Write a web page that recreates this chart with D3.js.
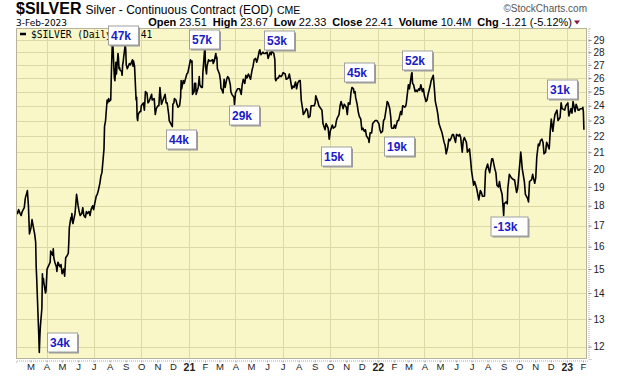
<!DOCTYPE html>
<html>
<head>
<meta charset="utf-8">
<script src="https://cdn.jsdelivr.net/npm/d3@7"></script>
<style>
  html, body { margin: 0; padding: 0; background: #fff; }
  svg { display: block; }
</style>
</head>
<body>
<svg id="chart" width="620" height="376"></svg>
<script>
// Silver daily closes: [month-day, close]
const y2020 = [
  ["02-03",17.7],["02-05",17.6],["02-07",17.8],["02-10",17.6],["02-12",17.5],["02-14",17.7],["02-18",17.9],["02-20",18.4],["02-24",18.8],["02-26",18.0],["02-28",16.6],
  ["03-02",16.9],["03-04",17.3],["03-06",17.0],["03-09",16.6],["03-11",16.2],["03-12",15.1],["03-13",14.6],["03-16",12.9],["03-17",12.4],["03-18",11.8],["03-19",12.3],["03-20",12.7],["03-23",13.4],["03-24",14.8],["03-25",14.4],["03-26",14.6],["03-27",14.4],["03-30",14.0],["03-31",14.1],
  ["04-02",15.0],["04-06",15.2],["04-08",15.3],["04-09",15.8],["04-13",15.6],["04-14",15.9],["04-15",15.5],["04-17",15.3],["04-20",15.1],["04-21",14.9],["04-23",15.3],["04-27",15.1],["04-29",15.2],
  ["05-01",14.8],["05-04",15.0],["05-06",14.7],["05-08",15.5],["05-11",15.6],["05-13",15.7],["05-14",16.2],["05-15",16.9],["05-18",17.4],["05-19",17.3],["05-20",17.6],["05-21",17.2],["05-22",17.1],["05-26",17.6],["05-27",17.9],["05-29",18.6],
  ["06-01",18.0],["06-03",17.7],["06-05",17.5],["06-08",17.6],["06-10",17.9],["06-12",17.5],["06-15",17.4],["06-17",17.7],["06-19",17.6],["06-22",17.7],["06-24",17.5],["06-26",17.8],["06-29",18.0],
  ["07-01",17.8],["07-03",18.1],["07-06",18.5],["07-08",18.6],["07-10",18.8],["07-13",19.2],["07-15",19.6],["07-17",19.8],["07-21",21.2],["07-22",22.6],["07-24",23.0],["07-27",24.4],["07-28",24.2],["07-30",24.5],["07-31",24.3],
  ["08-03",24.4],["08-04",26.0],["08-05",27.4],["08-06",28.6],["08-07",28.8],["08-10",26.0],["08-11",25.8],["08-12",26.3],["08-13",27.2],["08-14",26.3],["08-17",27.9],["08-18",27.5],["08-19",26.7],["08-20",26.8],["08-21",26.6],["08-24",26.5],["08-25",26.2],["08-26",27.0],["08-27",27.2],["08-28",27.6],["08-31",28.6],
  ["09-01",28.2],["09-02",27.0],["09-04",26.7],["09-08",27.1],["09-10",27.0],["09-14",27.4],["09-15",26.9],["09-16",27.3],["09-18",26.9],["09-21",24.4],["09-22",24.6],["09-23",23.2],["09-24",23.0],["09-25",23.4],["09-28",23.6],["09-30",23.6],
  ["10-01",24.0],["10-05",24.2],["10-07",23.7],["10-08",24.3],["10-09",25.0],["10-12",24.9],["10-14",24.2],["10-16",24.3],["10-19",24.6],["10-21",24.8],["10-22",24.4],["10-26",24.5],["10-28",23.4],["10-30",23.8],
  ["11-02",24.0],["11-04",24.0],["11-06",25.3],["11-09",24.1],["11-10",24.2],["11-12",24.4],["11-16",24.8],["11-18",24.2],["11-20",24.2],["11-23",23.4],["11-24",23.0],["11-27",22.8],["11-30",22.6],
  ["12-01",24.1],["12-03",24.2],["12-04",24.5],["12-07",24.4],["12-09",24.1],["12-11",23.9],["12-14",24.0],["12-16",24.6],["12-17",25.8],["12-18",25.2],["12-21",25.8],["12-23",25.6],["12-28",26.3],["12-30",26.4]
];
const y2021 = [
  ["01-04",27.4],["01-06",27.2],["01-07",27.3],["01-08",24.8],["01-11",25.0],["01-12",25.6],["01-14",25.6],["01-15",24.8],["01-19",25.3],["01-21",26.1],["01-22",25.5],["01-25",25.3],["01-27",25.3],["01-28",26.4],["01-29",26.9],
  ["02-01",28.6],["02-02",26.9],["02-03",26.6],["02-04",26.3],["02-05",26.9],["02-08",27.4],["02-10",27.3],["02-12",27.3],["02-16",27.4],["02-17",27.1],["02-19",27.3],["02-22",27.9],["02-23",27.5],["02-24",27.6],["02-25",26.7],["02-26",26.6],
  ["03-01",26.3],["03-03",25.8],["03-04",25.2],["03-05",25.2],["03-08",24.9],["03-10",25.9],["03-12",25.3],["03-15",25.9],["03-17",26.1],["03-19",26.0],["03-22",25.5],["03-23",25.0],["03-25",24.8],["03-29",24.6],["03-30",24.1],["03-31",24.5],
  ["04-01",24.9],["04-05",25.2],["04-07",25.2],["04-09",25.2],["04-12",24.8],["04-14",25.5],["04-16",25.9],["04-19",25.6],["04-21",26.2],["04-23",26.0],["04-26",26.3],["04-28",26.1],["04-30",25.9],
  ["05-03",26.6],["05-05",26.9],["05-07",27.4],["05-10",27.5],["05-12",27.2],["05-14",27.5],["05-17",28.1],["05-18",28.2],["05-20",27.8],["05-24",28.0],["05-26",27.9],["05-28",27.9],
  ["06-01",28.0],["06-03",27.5],["06-07",28.0],["06-09",27.8],["06-10",28.1],["06-14",27.9],["06-16",27.4],["06-17",25.9],["06-18",25.8],["06-21",26.0],["06-23",26.0],["06-25",26.2],["06-28",26.1],["06-30",26.2],
  ["07-02",26.4],["07-06",26.3],["07-08",25.9],["07-12",26.0],["07-14",26.3],["07-16",25.9],["07-19",25.2],["07-21",25.4],["07-23",25.3],["07-26",25.7],["07-28",25.2],["07-30",25.6],
  ["08-02",25.8],["08-04",25.8],["08-06",24.4],["08-09",23.7],["08-10",23.4],["08-12",23.5],["08-16",23.8],["08-18",23.7],["08-20",23.2],["08-23",23.3],["08-25",24.0],["08-27",24.0],["08-31",24.0],
  ["09-02",24.2],["09-03",24.7],["09-07",24.3],["09-09",24.0],["09-13",23.8],["09-15",23.7],["09-17",22.8],["09-21",22.4],["09-23",22.8],["09-27",22.5],["09-29",21.8],["09-30",22.0],
  ["10-01",22.3],["10-05",22.7],["10-07",22.5],["10-11",22.6],["10-13",23.0],["10-15",23.2],["10-18",23.4],["10-20",24.0],["10-22",24.3],["10-26",23.8],["10-28",24.1],
  ["11-01",23.9],["11-03",23.4],["11-05",24.2],["11-08",24.1],["11-10",24.9],["11-12",25.3],["11-15",25.2],["11-16",24.9],["11-18",25.0],["11-19",24.6],["11-22",24.1],["11-24",23.6],["11-26",23.3],["11-29",23.1],
  ["12-01",22.4],["12-03",22.5],["12-06",22.3],["12-08",22.4],["12-10",22.0],["12-14",21.8],["12-15",21.6],["12-17",22.2],["12-20",22.2],["12-22",22.8],["12-27",23.0],["12-30",23.0]
];
const y2022 = [
  ["01-03",22.8],["01-05",22.4],["01-07",22.2],["01-10",22.3],["01-12",23.0],["01-14",23.1],["01-18",24.0],["01-19",24.3],["01-21",24.2],["01-24",23.8],["01-26",23.2],["01-27",22.6],["01-28",22.5],["01-31",22.5],
  ["02-02",22.7],["02-04",22.5],["02-08",23.0],["02-10",23.0],["02-14",23.6],["02-16",23.4],["02-18",24.0],["02-22",23.9],["02-24",24.0],["02-25",24.2],
  ["03-01",25.5],["03-03",25.2],["03-07",26.3],["03-08",26.4],["03-09",25.6],["03-11",25.5],["03-14",25.0],["03-16",25.1],["03-18",25.0],["03-21",25.2],["03-23",25.1],["03-25",25.5],["03-28",25.0],["03-30",25.2],
  ["04-01",24.7],["04-04",24.3],["04-06",24.4],["04-08",24.8],["04-12",25.4],["04-14",25.8],["04-18",26.2],["04-20",25.3],["04-22",24.3],["04-25",23.8],["04-27",23.4],["04-29",22.8],
  ["05-03",22.4],["05-05",22.2],["05-09",21.6],["05-11",21.4],["05-13",20.9],["05-16",21.3],["05-18",21.8],["05-20",21.7],["05-23",21.9],["05-25",22.1],["05-27",22.1],["05-31",21.6],
  ["06-02",22.1],["06-06",22.0],["06-08",22.1],["06-10",21.9],["06-13",21.0],["06-15",21.7],["06-17",21.9],["06-21",21.6],["06-23",21.0],["06-27",21.2],["06-29",20.6],
  ["07-01",19.9],["07-05",19.1],["07-07",19.3],["07-11",18.9],["07-13",18.6],["07-15",18.3],["07-18",18.8],["07-20",18.7],["07-22",18.5],["07-26",18.5],["07-28",19.9],
  ["08-01",20.3],["08-03",20.0],["08-05",19.8],["08-09",20.6],["08-11",20.6],["08-15",20.0],["08-17",19.8],["08-19",19.1],["08-22",19.0],["08-24",19.3],["08-26",18.9],["08-29",18.6],["08-31",17.9],
  ["09-01",17.5],["09-02",18.1],["09-06",18.2],["09-08",18.1],["09-09",18.9],["09-12",19.7],["09-14",19.6],["09-16",19.5],["09-20",19.4],["09-22",19.4],["09-26",18.7],["09-28",18.9],
  ["10-03",20.6],["10-04",21.0],["10-05",20.7],["10-07",20.0],["10-11",19.3],["10-13",18.6],["10-17",18.4],["10-19",18.2],["10-21",19.3],["10-25",19.4],["10-27",19.7],["10-31",19.2],
  ["11-02",19.5],["11-04",20.7],["11-07",21.5],["11-09",21.4],["11-11",21.7],["11-14",21.8],["11-16",21.6],["11-18",20.9],["11-21",21.0],["11-23",21.6],["11-28",21.2],["11-30",22.3],
  ["12-02",23.1],["12-05",22.3],["12-07",22.9],["12-09",23.4],["12-13",23.7],["12-15",23.0],["12-19",23.2],["12-21",24.2],["12-23",23.8],["12-28",23.7],["12-30",24.0]
];
const y2023 = [
  ["01-03",24.2],["01-05",23.3],["01-09",23.8],["01-11",23.5],["01-13",24.3],["01-17",23.6],["01-19",24.1],["01-23",23.7],["01-25",23.7],["01-27",23.8],["01-31",23.8],
  ["02-01",23.9],["02-02",23.6],["02-03",22.4]
];

// Price axis (log scale) and month letters for the time axis
const priceTicks = [12, 13, 14, 15, 16, 17, 18, 19, 20, 21, 22, 23, 24, 25, 26, 27, 28, 29];
const monthLetters = ["J", "F", "M", "A", "M", "J", "J", "A", "S", "O", "N", "D"];

// Callout boxes: label, date and price of the box centre
const noteLabels = ["34k", "47k", "44k", "57k", "29k", "53k", "15k", "45k", "19k", "52k", "-13k", "31k"];
const noteDates = ["2020-04-30", "2020-08-27", "2020-12-17", "2021-01-31", "2021-04-17", "2021-06-24",
                   "2021-10-12", "2021-11-26", "2022-02-10", "2022-03-17", "2022-09-11", "2022-12-22"];
const notePrices = [12.16, 29.45, 21.83, 29.07, 23.39, 29.0, 20.76, 26.47, 21.38, 27.38, 16.99, 25.17];

// Header quote
const quoteNames = ["Open", "High", "Low", "Close", "Volume", "Chg"];
const quoteValues = ["23.51", "23.67", "22.33", "22.41", "10.4M", "-1.21 (-5.12%)"];

(function() {
    const W = 620, H = 376;
    const margin = {top: 28, right: 33, bottom: 17, left: 16};
    const plotW = W - margin.left - margin.right;
    const plotH = H - margin.top - margin.bottom;
    const SANS = "'Liberation Sans', Arial, sans-serif";

    const parse = d3.timeParse("%Y-%m-%d");
    const toRows = (year, rows) => rows.map(r => ({date: parse(year + "-" + r[0]), close: r[1]}));
    const series = [].concat(
        toRows(2020, y2020), toRows(2021, y2021), toRows(2022, y2022), toRows(2023, y2023)
    );

    const svg = d3.select("#chart");

    // Scales
    const x = d3.scaleTime()
        .domain([parse("2020-02-02"), parse("2023-02-09")])
        .range([0, plotW]);
    const y = d3.scaleLog()
        .domain([11.58, 30.02])
        .range([plotH, 0]);

    // Header
    const head = svg.append("text")
        .attr("x", 16).attr("y", 14)
        .attr("font-family", SANS).attr("fill", "#000");
    head.append("tspan").attr("font-size", 16).attr("font-weight", "bold").text("$SILVER");
    head.append("tspan").attr("font-size", 12).attr("dx", 4).text("Silver - Continuous Contract (EOD)");
    head.append("tspan").attr("font-size", 10.5).attr("dx", 4).text("CME");

    svg.append("text")
        .attr("x", 587).attr("y", 12)
        .attr("text-anchor", "end")
        .attr("font-family", SANS).attr("font-size", 10)
        .attr("fill", "#555")
        .text("\u00a9StockCharts.com");

    svg.append("text")
        .attr("x", 16).attr("y", 25.5)
        .attr("font-family", "'DejaVu Sans', Verdana, sans-serif").attr("font-size", 9)
        .text("3-Feb-2023");

    const quote = svg.append("text")
        .attr("x", 572).attr("y", 25.5)
        .attr("text-anchor", "end")
        .attr("font-family", SANS).attr("font-size", 11);
    quoteNames.forEach((name, i) => {
        quote.append("tspan").attr("font-weight", "bold").attr("dx", i ? 6 : 0).text(name);
        quote.append("tspan").attr("dx", 3).text(quoteValues[i]);
    });
    svg.append("path")
        .attr("d", "M574,20.5 L580,20.5 L577,24.5 Z")
        .attr("fill", "#8a1538");

    // Plot area
    const g = svg.append("g")
        .attr("transform", "translate(" + margin.left + "," + margin.top + ")");

    g.append("rect")
        .attr("width", plotW).attr("height", plotH)
        .attr("fill", "#f9f6c7");

    // Grid
    g.append("g").selectAll("line")
        .data(priceTicks)
        .join("line")
        .attr("x1", 0).attr("x2", plotW)
        .attr("y1", d => Math.round(y(d)) + 0.5).attr("y2", d => Math.round(y(d)) + 0.5)
        .attr("stroke", "#dcd9a6");

    const quarters = d3.timeMonth.every(3).range(x.domain()[0], x.domain()[1]);
    g.append("g").selectAll("line")
        .data(quarters)
        .join("line")
        .attr("x1", d => Math.round(x(d)) + 0.5).attr("x2", d => Math.round(x(d)) + 0.5)
        .attr("y1", 0).attr("y2", plotH)
        .attr("stroke", "#dcd9a6");

    // Price line
    g.append("path")
        .datum(series)
        .attr("fill", "none")
        .attr("stroke", "#000")
        .attr("stroke-width", 1.6)
        .attr("stroke-linejoin", "round")
        .attr("d", d3.line()
            .x(d => x(d.date))
            .y(d => y(d.close)));

    // Frame
    g.append("rect")
        .attr("x", 0.5).attr("y", 0.5)
        .attr("width", plotW - 1).attr("height", plotH - 1)
        .attr("fill", "none").attr("stroke", "#b5b39a");

    // Right price axis
    const yAxis = g.append("g")
        .attr("transform", "translate(" + (plotW + 1.5) + ",0)")
        .call(d3.axisRight(y).tickValues(priceTicks).tickFormat(d3.format("d")).tickSize(3).tickPadding(2));
    yAxis.select(".domain").attr("stroke", "#aaa").attr("stroke-dasharray", "1,1");
    yAxis.selectAll(".tick line").attr("stroke", "#888");
    yAxis.selectAll("text").attr("font-family", SANS).attr("font-size", 10).attr("fill", "#222");

    // Bottom time axis
    const months = d3.timeMonth.range(d3.timeMonth.ceil(x.domain()[0]), x.domain()[1]);
    const xAxis = g.append("g")
        .attr("transform", "translate(0," + (plotH + 1.5) + ")")
        .call(d3.axisBottom(x).tickValues(months)
            .tickFormat(d => d.getMonth() === 0 ? d3.timeFormat("%y")(d) : monthLetters[d.getMonth()])
            .tickSize(2).tickPadding(1));
    xAxis.select(".domain").attr("stroke", "#aaa").attr("stroke-dasharray", "1,1");
    xAxis.selectAll(".tick line").attr("stroke", "#aaa");
    xAxis.selectAll("text")
        .attr("font-family", SANS).attr("fill", "#222")
        .attr("font-weight", d => d.getMonth() === 0 ? "bold" : "normal")
        .attr("font-size", d => d.getMonth() === 0 ? 10.5 : 9.5);

    // Legend (partly hidden by the first callout)
    g.append("line")
        .attr("x1", 4).attr("x2", 10).attr("y1", 6).attr("y2", 6)
        .attr("stroke", "#000").attr("stroke-width", 2.5);
    g.append("text")
        .attr("x", 15).attr("y", 10)
        .attr("font-family", "'DejaVu Sans Mono', monospace").attr("font-size", 9.6)
        .text("$SILVER (Daily) 22.41");

    // Callout boxes
    const notes = noteLabels.map((label, i) => ({label, date: parse(noteDates[i]), price: notePrices[i]}));
    const box = g.append("g").selectAll("g")
        .data(notes)
        .join("g")
        .attr("transform", d => "translate(" + Math.round(x(d.date)) + "," + Math.round(y(d.price)) + ")");
    box.each(function(d) {
        const sel = d3.select(this);
        const w = Math.max(30, d.label.length * 7 + 9), h = 19;
        sel.append("rect")
            .attr("x", -w / 2 + 2).attr("y", -h / 2 + 2)
            .attr("width", w).attr("height", h)
            .attr("fill", "#9a9a9a");
        sel.append("rect")
            .attr("x", -w / 2 + 0.5).attr("y", -h / 2 + 0.5)
            .attr("width", w).attr("height", h)
            .attr("fill", "#fff").attr("stroke", "#a0a0a0");
        sel.append("text")
            .attr("x", -w / 2 + 3).attr("y", 4.5)
            .attr("font-family", SANS).attr("font-size", 12).attr("font-weight", "bold")
            .attr("fill", "#1c1cc4")
            .text(d.label);
    });
})();
</script>
</body>
</html>
